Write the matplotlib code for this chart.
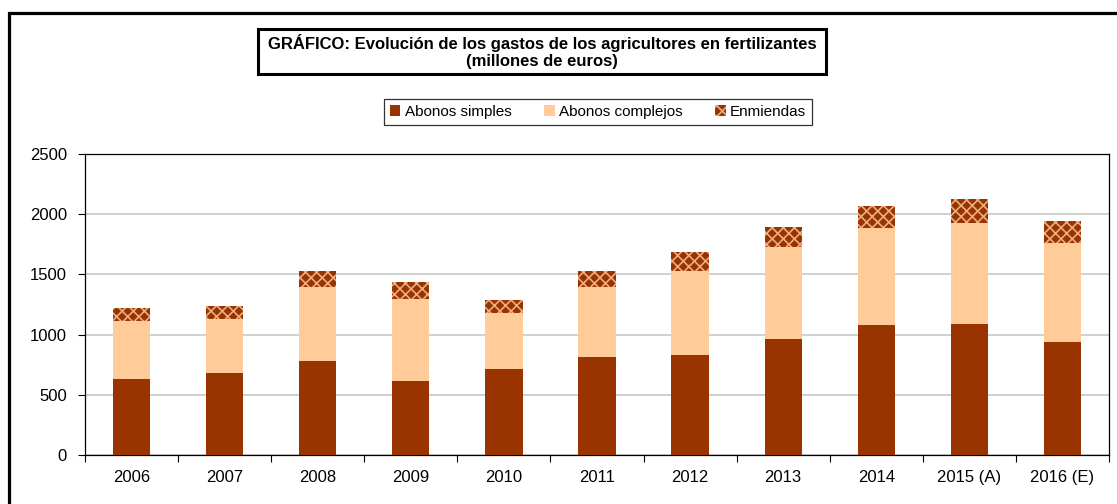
import numpy as np
import matplotlib.pyplot as plt
from matplotlib.patches import Rectangle, Patch

plt.rcParams["font.family"] = ["Liberation Sans", "DejaVu Sans"]
plt.rcParams["hatch.linewidth"] = 1.2

# ── datos (millones de euros) ─────────────────────────────────
years = ["2006", "2007", "2008", "2009", "2010", "2011", "2012",
         "2013", "2014", "2015 (A)", "2016 (E)"]
abonos_simples = [629, 679, 778, 617, 714, 811, 830, 961, 1077, 1088, 938]
abonos_complejos = [486, 448, 620, 676, 463, 582, 696, 767, 808, 841, 820]
enmiendas = [103, 108, 130, 144, 113, 135, 157, 166, 186, 194, 186]

c_simple = "#993300"
c_complejo = "#FFCC99"
c_hatch = "#EBAE80"

W, H = 1117, 504
fig = plt.figure(figsize=(W / 100, H / 100), dpi=100)

# marco exterior grueso (cortado a la derecha y abajo)
fig.patches.append(Rectangle((9.5 / W, -0.2), 1.2, 1.2 - 13.5 / H,
                             transform=fig.transFigure, fill=False,
                             edgecolor="black", linewidth=2.3, zorder=0))

ax = fig.add_axes([85 / W, (H - 455) / H, (1109 - 85) / W, 301 / H])

x = np.arange(len(years))
s = np.array(abonos_simples)
c = np.array(abonos_complejos)
e = np.array(enmiendas)

ax.bar(x, s, width=0.4, color=c_simple, zorder=3)
ax.bar(x, c, width=0.4, bottom=s, color=c_complejo, zorder=3)
ax.bar(x, e, width=0.4, bottom=s + c, facecolor=c_simple, edgecolor=c_hatch,
       hatch="xxx", linewidth=0, zorder=3)

ax.set_xlim(-0.5, len(years) - 0.5)
ax.set_ylim(0, 2500)
ax.set_yticks(range(0, 2501, 500))
ax.yaxis.grid(True, color="#c8c8c8", linewidth=1.2, zorder=0)
ax.set_axisbelow(True)

ax.set_xticks(x)
ax.set_xticklabels(years, fontsize=12)
ax.set_xticks(np.arange(len(years) + 1) - 0.5, minor=True)
ax.tick_params(axis="x", which="major", length=0, pad=11)
ax.tick_params(axis="x", which="minor", length=5, width=0.8)
ax.tick_params(axis="y", length=5, width=0.8, pad=8, labelsize=12)
for sp in ax.spines.values():
    sp.set_linewidth(0.9)

# título en caja
fig.text((258 + 826) / 2 / W, 1 - 51.5 / H,
         "GRÁFICO: Evolución de los gastos de los agricultores en fertilizantes\n(millones de euros)",
         ha="center", va="center", fontsize=12, fontweight="bold", linespacing=1.12)
fig.patches.append(Rectangle((258 / W, 1 - 74 / H), (826 - 258) / W, 45 / H,
                             transform=fig.transFigure, fill=False,
                             edgecolor="black", linewidth=2.2))

# leyenda
handles = [Patch(facecolor=c_simple, label="Abonos simples"),
           Patch(facecolor=c_complejo, label="Abonos complejos"),
           Patch(facecolor=c_simple, edgecolor=c_hatch, hatch="xxx", linewidth=0,
                 label="Enmiendas")]
leg = fig.legend(handles=handles, loc="center", ncol=3,
                 bbox_to_anchor=((379 + 817) / 2 / W, 1 - 112 / H),
                 fontsize=11, frameon=True, fancybox=False, edgecolor="black",
                 handlelength=0.7, handleheight=0.7, handletextpad=0.3,
                 columnspacing=2.1, borderpad=0.4, borderaxespad=0)
leg.get_frame().set_linewidth(0.9)

fig.savefig("out.png", dpi=100)
